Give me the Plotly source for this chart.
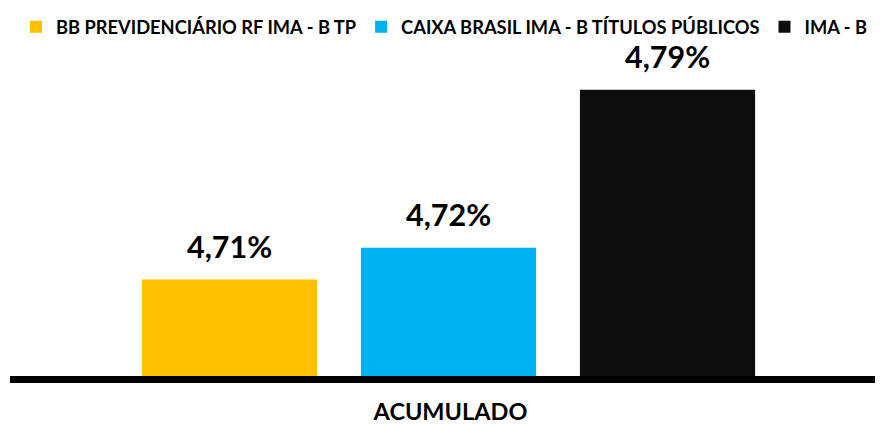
import plotly.graph_objects as go

category_label = "ACUMULADO"
series_names = ["BB PREVIDENCIÁRIO RF IMA - B TP", "CAIXA BRASIL IMA - B TÍTULOS PÚBLICOS", "IMA - B"]
series_values = [4.7055, 4.7195, 4.7891]
series_colors = ["#FFC000", "#00B0F0", "#0D0D0D"]

FONT = "Lato"

fig = go.Figure()
for name, val, col in zip(series_names, series_values, series_colors):
    fig.add_trace(go.Bar(
        x=[name], y=[val], name=name,
        marker=dict(color=col, line=dict(width=0)),
        hoverinfo="skip",
    ))
    fig.add_annotation(
        x=name, y=val, xref="x", yref="y",
        text=f"{val:.2f}%".replace(".", ","),
        showarrow=False, yanchor="bottom", yshift=14,
        font=dict(family=FONT, size=30.5, color="#000000", weight=700),
    )

y_min = 4.66307
y_max = 4.80787

fig.update_layout(
    width=883, height=425,
    paper_bgcolor="white", plot_bgcolor="white",
    margin=dict(l=2, r=0, t=37, b=57),
    barmode="overlay", bargap=0.2,
    showlegend=True,
    legend=dict(
        orientation="h", x=0.0068, xanchor="left",
        y=1.1178, yanchor="top",
        font=dict(family=FONT, size=18.3, color="#000000", weight=700),
        itemwidth=30, traceorder="normal",
    ),
    xaxis=dict(
        showticklabels=False, showgrid=False, zeroline=False,
        showline=True, linecolor="#000000", linewidth=7,
        ticks="", range=[-1.0023, 3.0205],
        title=dict(text=category_label, standoff=24,
                   font=dict(family=FONT, size=23.5, color="#000000", weight=700)),
    ),
    yaxis=dict(
        visible=False, showgrid=False, zeroline=False,
        range=[y_min, y_max],
    ),
)

fig.write_html("out.html")
